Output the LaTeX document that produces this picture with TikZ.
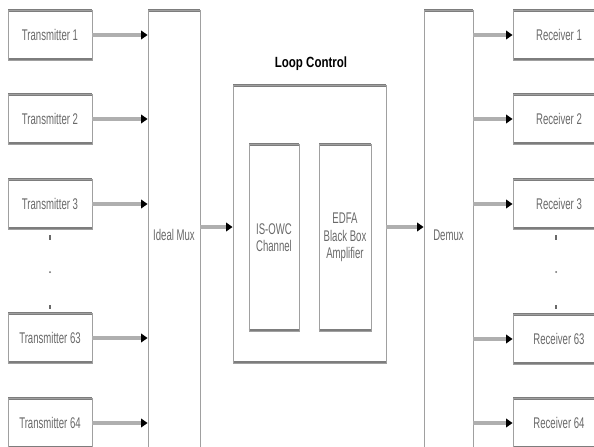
\documentclass[tikz,border=0pt]{standalone}
\usepackage{fontspec}
\setsansfont{Liberation Sans}
\newfontfamily\narrowfont[FakeStretch=0.62]{Liberation Sans}
\newfontfamily\titlefont[FakeStretch=0.78]{Liberation Sans}
\usepackage{tikz}
\usetikzlibrary{
    arrows.meta,
    positioning,
    calc
}
\definecolor{boxframe}{RGB}{160, 160, 160}
\definecolor{boxedge}{RGB}{125, 125, 125}
\definecolor{wiregray}{RGB}{175, 175, 175}
\definecolor{labelgray}{RGB}{105, 105, 105}
\tikzstyle{blk} = [
    rectangle,
    draw=boxframe,
    line width=0.6pt,
    fill=white,
    inner sep=1pt,
    align=center,
    text=labelgray,
    font=\narrowfont\fontsize{11}{12.5}\selectfont,
    path picture={
        \draw[boxedge, line width=2.6pt]
            (path picture bounding box.north west) -- (path picture bounding box.north east)
            (path picture bounding box.south west) -- (path picture bounding box.south east);
    }
]
\tikzstyle{endbox} = [
    blk,
    minimum width=2.1cm,
    minimum height=1.25cm
]
\tikzstyle{sig} = [
    draw=wiregray,
    line width=2.4pt,
    -{Triangle[length=4.5pt, width=6pt, color=black]}
]

\begin{document}
\begin{tikzpicture}[x=0.025cm, y=-0.025cm]
    % Frame
    \clip (0,0) rectangle (594,447);
    \fill[white] (0,0) rectangle (594,447);

    % Transmitters
    \node[endbox] (tx1)  at (50,35)  {Transmitter 1};
    \node[endbox] (tx2)  at (50,119) {Transmitter 2};
    \node[endbox] (tx3)  at (50,204) {Transmitter 3};
    \node[endbox] (tx63) at (50,338) {Transmitter 63};
    \node[endbox] (tx64) at (50,423) {Transmitter 64};

    % Mux
    \node[blk, minimum width=1.3cm, minimum height=11.25cm] (mux) at (174,235) {Ideal Mux};

    % Loop control
    \node[font=\titlefont\bfseries\fontsize{10.5}{12}\selectfont] (looptitle) at (311,64) {Loop Control};
    \node[blk, minimum width=3.825cm, minimum height=6.95cm] (loop) at (309.5,224) {};
    \node[blk, minimum width=1.25cm, minimum height=4.675cm] (owc) at (274,237.5) {IS-OWC\\Channel};
    \node[blk, minimum width=1.3cm, minimum height=4.675cm] (edfa) at (345,237.5) {EDFA\\Black Box\\Amplifier};

    % Demux
    \node[blk, minimum width=1.225cm, minimum height=11.25cm] (demux) at (448.5,235) {Demux};

    % Receivers
    \tikzset{endbox/.append style={minimum width=2.3cm}}
    \node[endbox] (rx1)  at (559,35)  {Receiver 1};
    \node[endbox] (rx2)  at (559,119) {Receiver 2};
    \node[endbox] (rx3)  at (559,204) {Receiver 3};
    \node[endbox] (rx63) at (559,339) {Receiver 63};
    \node[endbox] (rx64) at (559,423) {Receiver 64};

    % Dots
    \foreach \x in {50,556} {
        \fill[labelgray] (\x-0.6,235) rectangle (\x+0.6,240);
        \fill[labelgray] (\x,272) circle (1);
        \fill[labelgray] (\x-0.6,305) rectangle (\x+0.6,309);
    }

    % Links
    \foreach \t in {tx1,tx2,tx3,tx63,tx64}
        \draw[sig] (\t.east) -- (\t.east -| mux.west);
    \foreach \r in {rx1,rx2,rx3,rx63,rx64}
        \draw[sig] (\r.west -| demux.east) -- (\r.west);
    \draw[sig] (mux.east |- loop.west) ++(0,3) coordinate (muxout) -- (muxout -| loop.west);
    \draw[sig] (loop.east) ++(0,3) coordinate (loopout) -- (loopout -| demux.west);
\end{tikzpicture}
\end{document}
